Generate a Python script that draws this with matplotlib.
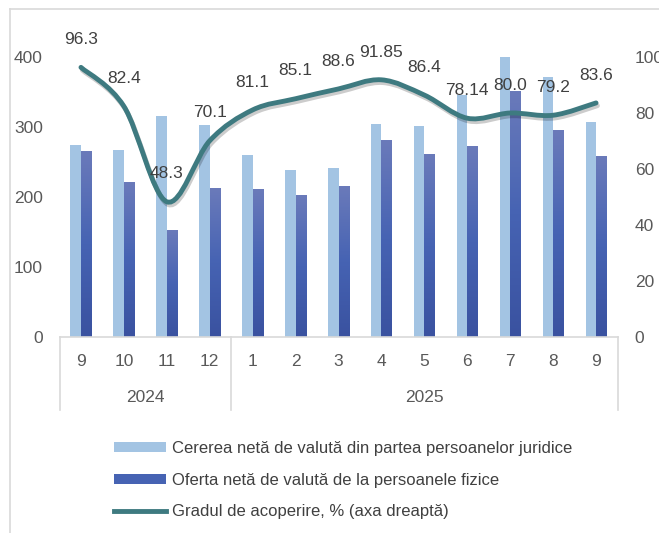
import matplotlib.pyplot as plt
import matplotlib.patheffects as pe
from matplotlib.path import Path
from matplotlib.patches import PathPatch, Patch
from matplotlib.lines import Line2D
from matplotlib.colors import LinearSegmentedColormap
import numpy as np

plt.rcParams['font.family'] = ['Liberation Sans', 'DejaVu Sans']

# data
months = ['9', '10', '11', '12', '1', '2', '3', '4', '5', '6', '7', '8', '9']
years = ['2024', '2025']
year_len = [4, 9]
cerere = [274, 267, 315, 303, 260, 238, 242, 304, 302, 345, 430, 372, 307]
oferta = [265, 221, 152, 212, 211, 202, 215, 280, 261, 272, 351, 295, 258]
grad = [96.3, 82.4, 48.3, 70.1, 81.1, 85.1, 88.6, 91.85, 86.4, 78.14, 80.0, 79.2, 83.6]
grad_labels = ['96.3', '82.4', '48.3', '70.1', '81.1', '85.1', '88.6', '91.85', '86.4',
               '78.14', '80.0', '79.2', '83.6']

W, H = 659, 533
fig = plt.figure(figsize=(W / 100, H / 100), dpi=100)
L, R, T, B = 59.5, 617.5, 57, 337
ax = fig.add_axes([L / W, 1 - B / H, (R - L) / W, (B - T) / H])
ax2 = ax.twinx()

x = np.arange(len(months))
bw = 0.245
light = '#a3c4e3'
ax.bar(x - bw / 2, cerere, bw, color=light, zorder=2)
dark_bars = ax.bar(x + bw / 2, oferta, bw, color='none', zorder=2)

# gradient fill for the dark bars
cmap = LinearSegmentedColormap.from_list('d', ['#3a52a0', '#4663b3', '#6a7aba'])
grad_img = np.linspace(0, 1, 100).reshape(-1, 1)
for r in dark_bars:
    x0, y0 = r.get_x(), r.get_y()
    ax.imshow(grad_img, extent=[x0, x0 + r.get_width(), y0, y0 + r.get_height()],
              origin='lower', cmap=cmap, aspect='auto', zorder=2.5)

ax.set_xlim(-0.5, len(months) - 0.5)
ax.set_ylim(0, 400)
ax.set_yticks([0, 100, 200, 300, 400])
ax2.set_ylim(0, 100)
ax2.set_yticks([0, 20, 40, 60, 80, 100])

tc = '#595959'
fs = 12.5
ax.tick_params(axis='y', length=0, pad=12, labelsize=fs, labelcolor=tc)
ax2.tick_params(axis='y', length=0, pad=12.5, labelsize=fs, labelcolor=tc)
ax.set_xticks(x)
ax.set_xticklabels(months)
ax.tick_params(axis='x', length=0, pad=12, labelsize=fs, labelcolor=tc)
for a in (ax, ax2):
    for s in a.spines.values():
        s.set_visible(False)
ax.spines['bottom'].set_visible(True)
ax.spines['bottom'].set_color('#d9d9d9')
ax.spines['bottom'].set_linewidth(1.2)

# category group separators and year labels
sep_bottom = -(410 - 337) / (B - T)
tr = ax.get_xaxis_transform()
start = 0
bounds = [-0.5]
for yl, n in zip(years, year_len):
    bounds.append(start + n - 0.5)
    ax.text(start + (n - 1) / 2, -(398 - 337) / (B - T), yl, transform=tr,
            ha='center', va='center', fontsize=fs, color=tc)
    start += n
for b in bounds:
    ax.plot([b, b], [0, sep_bottom], transform=tr, color='#d9d9d9', lw=1.2, clip_on=False)

# smoothed line (bezier through the points)
pts = np.column_stack([x, grad])
verts = [pts[0]]
codes = [Path.MOVETO]
n = len(pts)
for i in range(n - 1):
    p0 = pts[max(i - 1, 0)]
    p1 = pts[i]
    p2 = pts[i + 1]
    p3 = pts[min(i + 2, n - 1)]
    c1 = p1 + (p2 - p0) / 6
    c2 = p2 - (p3 - p1) / 6
    verts += [c1, c2, p2]
    codes += [Path.CURVE4] * 3
line_col = '#3e7a80'
patch = PathPatch(Path(verts, codes), facecolor='none', edgecolor=line_col, lw=3.5,
                  capstyle='round', zorder=5,
                  path_effects=[pe.SimpleLineShadow(offset=(1, -2), alpha=0.2, shadow_color='#000000'),
                                pe.Normal()])
ax2.add_patch(patch)

for xi, v, lab in zip(x, grad, grad_labels):
    ax2.annotate(lab, (xi, v), xytext=(0, 20), textcoords='offset points',
                 ha='center', va='center', fontsize=fs, color='#404040', zorder=6)

# outer border
fig.add_artist(Line2D([10 / W, 1], [1 - 9 / H, 1 - 9 / H], color='#d9d9d9', lw=1.2))
fig.add_artist(Line2D([10 / W, 10 / W], [0, 1 - 9 / H], color='#d9d9d9', lw=1.2))

# legend
handles = [Patch(facecolor=light, edgecolor='none'),
           Patch(facecolor='#4663b3', edgecolor='none'),
           Line2D([], [], color=line_col, lw=3.5)]
labels = ['Cererea netă de valută din partea persoanelor juridice',
          'Oferta netă de valută de la persoanele fizice',
          'Gradul de acoperire, % (axa dreaptă)']
leg = fig.legend(handles, labels, loc='upper left', bbox_to_anchor=(114 / W, 1 - 441 / H),
                 frameon=False, fontsize=12, handlelength=3.1, handleheight=0.6,
                 handletextpad=0.35, labelspacing=1.0, borderpad=0, borderaxespad=0)
for t in leg.get_texts():
    t.set_color('#404040')

fig.savefig('out.png', dpi=100)
